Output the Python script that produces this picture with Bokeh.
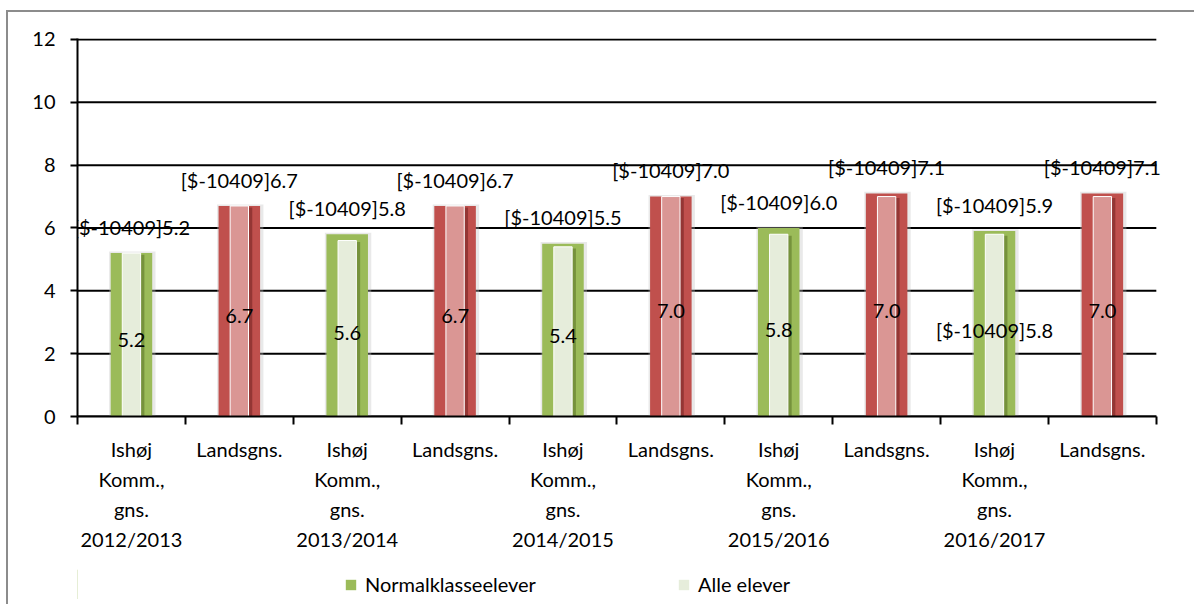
from bokeh.plotting import figure
from bokeh.layouts import column
from bokeh.models import Range1d, FixedTicker, ColumnDataSource, Legend, LegendItem
from bokeh.core.properties import value
from bokeh.embed import file_html
from bokeh.resources import INLINE

# ---- data ----
categories = [
    "Ishøj Komm., gns. 2012/2013", "Landsgns.",
    "Ishøj Komm., gns. 2013/2014", "Landsgns.",
    "Ishøj Komm., gns. 2014/2015", "Landsgns.",
    "Ishøj Komm., gns. 2015/2016", "Landsgns.",
    "Ishøj Komm., gns. 2016/2017", "Landsgns.",
]
normalklasseelever = [5.2, 6.7, 5.8, 6.7, 5.5, 7.0, 6.0, 7.1, 5.9, 7.1]
alle_elever = [5.2, 6.7, 5.6, 6.7, 5.4, 7.0, 5.8, 7.0, 5.8, 7.0]
series_names = ["Normalklasseelever", "Alle elever"]
# Excel number-format prefix that leaked into the labels
normal_label_prefix = ["[$-10409]"] * 10
alle_label_prefix = ["", "", "", "", "", "", "", "", "[$-10409]", ""]
y_ticks = [0, 2, 4, 6, 8, 10, 12]

FONT = "Lato"
FS = "20px"

n = len(categories)
xs = [i + 0.5 for i in range(n)]
is_local = [c.startswith("Ishøj") for c in categories]
outer_col = ["#9BBB59" if l else "#C0504D" for l in is_local]
dark_col = ["#76923C" if l else "#943634" for l in is_local]
inner_col = ["#E6EDDB" if l else "#DA9694" for l in is_local]

src = ColumnDataSource(dict(
    x=xs,
    xs_shadow=[x + 0.035 for x in xs],
    xs_glow=[x + 0.008 for x in xs],
    normal=normalklasseelever,
    alle=alle_elever,
    glow_top=[v + 0.05 for v in normalklasseelever],
    dark_top=[v - 0.05 for v in alle_elever],
    outer_col=outer_col, dark_col=dark_col, inner_col=inner_col,
    nlab=[p + f"{v:.1f}" for p, v in zip(normal_label_prefix, normalklasseelever)],
    nlab_y=[v + 0.84 for v in normalklasseelever],
    alab=[p + f"{v:.1f}" for p, v in zip(alle_label_prefix, alle_elever)],
    alab_y=[v / 2 - 0.15 for v in alle_elever],
))

EXTRA = 0.15  # room right of the plot area for the last label
p = figure(width=1188, height=594, output_backend="svg", toolbar_location=None,
           x_range=Range1d(0, n + EXTRA), y_range=Range1d(0, 12.03),
           min_border_left=69, min_border_right=24, min_border_top=26, min_border_bottom=190)
p.styles = {"border-top": "2px solid #8c8c8c", "border-left": "2px solid #8c8c8c",
            "margin-top": "10px", "margin-left": "6px"}
p.outline_line_color = None
p.background_fill_color = "white"

# grid lines, limited to the plot area
p.xgrid.visible = False
p.ygrid.visible = False
p.segment(x0=[0] * len(y_ticks), x1=[n] * len(y_ticks), y0=y_ticks, y1=y_ticks,
          line_color="black", line_width=2)

# y axis
yax = p.yaxis[0]
yax.ticker = FixedTicker(ticks=y_ticks)
yax.axis_line_color = "black"
yax.axis_line_width = 2
yax.major_tick_line_color = "black"
yax.major_tick_line_width = 2
yax.major_tick_out = 7
yax.major_tick_in = 0
yax.minor_tick_line_color = None
yax.major_label_standoff = 15
yax.major_label_text_font = FONT
yax.major_label_text_font_size = "20px"
yax.major_label_text_color = "black"

# x axis
xax = p.xaxis[0]
xax.bounds = (0, n)
xax.ticker = FixedTicker(ticks=xs, minor_ticks=list(range(n + 1)))
xax.major_label_overrides = {x: "\n".join(c.split(" ")) for x, c in zip(xs, categories)}
xax.axis_line_color = "black"
xax.axis_line_width = 2
xax.major_tick_out = 0
xax.major_tick_in = 0
xax.major_tick_line_color = None
xax.minor_tick_out = 8
xax.minor_tick_in = 0
xax.minor_tick_line_color = "black"
xax.minor_tick_line_width = 2
xax.major_label_standoff = 12
xax.major_label_text_font = FONT
xax.major_label_text_font_size = FS
xax.major_label_text_color = "black"
xax.major_label_text_line_height = 1.25

# bars
p.vbar(x="xs_glow", top="glow_top", width=0.43, source=src,
       fill_color="#BFBFBF", fill_alpha=0.35, line_color=None)
p.vbar(x="x", top="normal", width=0.385, source=src,
       fill_color="outer_col", line_color=None)
p.vbar(x="xs_shadow", top="dark_top", width=0.17, source=src,
       fill_color="dark_col", line_color=None)
p.vbar(x="x", top="alle", width=0.17, source=src,
       fill_color="inner_col", line_color="white", line_width=1)

# labels
p.text(x="x", y="nlab_y", text="nlab", source=src, text_align="center",
       text_baseline="middle", text_font=value(FONT), text_font_size=FS, text_color="black")
p.text(x="x", y="alab_y", text="alab", source=src, text_align="center",
       text_baseline="middle", text_font=value(FONT), text_font_size=FS, text_color="black")

# legend strip, overlaid on the bottom of the chart
leg = figure(width=1188, height=30, output_backend="svg", toolbar_location=None,
             x_range=Range1d(0, 1), y_range=Range1d(0, 1),
             x_axis_location=None, y_axis_location=None, min_border=0)
leg.styles = {"margin-top": "-35px", "margin-left": "8px"}
leg.grid.visible = False
leg.outline_line_color = None
leg.background_fill_alpha = 0
leg.border_fill_alpha = 0
r1 = leg.vbar(x=[-5], top=[1], width=0.1, fill_color=outer_col[0], line_color=None)
r2 = leg.vbar(x=[-5], top=[1], width=0.1, fill_color=inner_col[0], line_color=None)

legend = Legend(items=[
    LegendItem(label=series_names[0], renderers=[r1]),
    LegendItem(label=series_names[1], renderers=[r2]),
], orientation="horizontal", location=(267, 3))
legend.border_line_color = None
legend.background_fill_alpha = 0
legend.padding = 0
legend.margin = 0
legend.glyph_width = 13
legend.glyph_height = 13
legend.label_standoff = 8
legend.label_width = 187
legend.spacing = 125
legend.label_text_font = FONT
legend.label_text_font_size = FS
legend.label_text_color = "black"
leg.add_layout(legend, "center")

layout = column(p, leg, spacing=0)
open("out.html", "w").write(file_html(layout, INLINE))
